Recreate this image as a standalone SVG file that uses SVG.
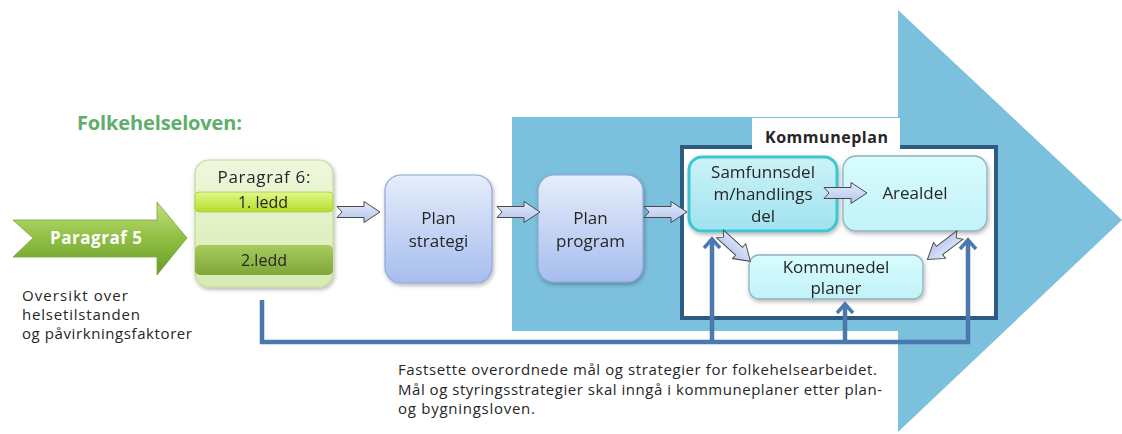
<svg xmlns="http://www.w3.org/2000/svg" width="1122" height="434" viewBox="0 0 1122 434">
<style>
  .t{font-family:"Open Sans","Noto Sans","DejaVu Sans",sans-serif;fill:#262626}
  .c{text-anchor:middle}
  .b{font-weight:bold}
  .box{fill:url(#gPlan);stroke:#8fa6d6;stroke-width:1.2}
  .cy{fill:url(#gCyan);stroke:#8fb2bd;stroke-width:1.3}
  .ln{fill:none;stroke:#4b79ad;stroke-width:4.5}
  .ba{fill:url(#gBA);stroke:#4a4a4a;stroke-width:1}
</style>
<defs>
  <linearGradient id="gPlan" x1="0" y1="0" x2="0" y2="1">
    <stop offset="0" stop-color="#e6edfb"/><stop offset="1" stop-color="#a6bdee"/>
  </linearGradient>
  <linearGradient id="gCyan" x1="0" y1="0" x2="0" y2="1">
    <stop offset="0" stop-color="#d8fcfe"/><stop offset="1" stop-color="#c2f2f8"/>
  </linearGradient>
  <linearGradient id="gSam" x1="0" y1="0" x2="0" y2="1">
    <stop offset="0" stop-color="#cdf3f8"/><stop offset="1" stop-color="#9fe2ee"/>
  </linearGradient>
  <linearGradient id="gBA" x1="0" y1="0" x2="0" y2="1">
    <stop offset="0" stop-color="#e4eafa"/><stop offset="1" stop-color="#b3c4ee"/>
  </linearGradient>
  <linearGradient id="gP5" x1="0" y1="0" x2="0" y2="1">
    <stop offset="0" stop-color="#c2e07e"/><stop offset="0.5" stop-color="#8fbf42"/><stop offset="1" stop-color="#6a9a2a"/>
  </linearGradient>
  <linearGradient id="gP6" x1="0" y1="0" x2="0" y2="1">
    <stop offset="0" stop-color="#eef7dc"/><stop offset="1" stop-color="#d6ebb2"/>
  </linearGradient>
  <linearGradient id="gL1" x1="0" y1="0" x2="0" y2="1">
    <stop offset="0" stop-color="#e2f78a"/><stop offset="1" stop-color="#b4dd2c"/>
  </linearGradient>
  <linearGradient id="gL2" x1="0" y1="0" x2="0" y2="1">
    <stop offset="0" stop-color="#a9cb5e"/><stop offset="1" stop-color="#7ea738"/>
  </linearGradient>
  <filter id="sh" x="-20%" y="-20%" width="140%" height="150%">
    <feDropShadow dx="1" dy="2" stdDeviation="2" flood-color="#000" flood-opacity="0.3"/>
  </filter>
  <path id="bar" d="M0,-5.5 L27,-5.5 L27,-10.5 L43,0 L27,10.5 L27,5.5 L0,5.5 L5,0 Z"/>
  <marker id="v" markerUnits="userSpaceOnUse" viewBox="-12 -12 24 24" refX="0" refY="0" markerWidth="24" markerHeight="24" orient="auto">
    <path d="M-9,-8 L0,0 L-9,8" fill="none" stroke="#4b79ad" stroke-width="3.5"/>
  </marker>
</defs>

<g id="bigArrow">
  <path d="M512,117 L898,117 L898,10 L1122,220 L898,432 L898,331 L512,331 Z" fill="#7bc0dc"/>
</g>

<g id="title">
  <text class="t b" x="77" y="130" font-size="20" style="fill:#5fae6b" textLength="165">Folkehelseloven:</text>
</g>

<g id="paragraf5">
  <path d="M13,220 L157,220 L157,202 L187,238 L157,275 L157,257 L13,257 L33,238 Z" fill="url(#gP5)" stroke="#7aa53a" stroke-width="0.8"/>
  <text class="t b c" x="96" y="244" font-size="17" style="fill:#fff" textLength="92">Paragraf 5</text>
</g>

<g id="paragraf6" filter="url(#sh)">
  <rect x="195" y="160" width="138" height="127" rx="14" fill="url(#gP6)" stroke="#c2da96" stroke-width="1.2"/>
  <rect x="195" y="192" width="138" height="20" rx="4" fill="url(#gL1)" stroke="#a6cb48" stroke-width="0.8"/>
  <rect x="195" y="245" width="138" height="30" rx="5" fill="url(#gL2)"/>
  <text class="t c" x="264" y="183" font-size="17" textLength="93">Paragraf 6:</text>
  <text class="t c" x="263" y="208" font-size="16">1. ledd</text>
  <text class="t c" x="264" y="266" font-size="16">2.ledd</text>
</g>

<g id="oversikt">
  <text class="t" x="22" y="301" font-size="15" textLength="106">Oversikt over</text>
  <text class="t" x="22" y="320" font-size="15" textLength="118">helsetilstanden</text>
  <text class="t" x="22" y="339" font-size="15" textLength="170">og påvirkningsfaktorer</text>
</g>

<g id="planStrategi" filter="url(#sh)">
  <rect class="box" x="385" y="175" width="107" height="108" rx="16"/>
  <text class="t c" x="438.5" y="224" font-size="17">Plan</text>
  <text class="t c" x="438.5" y="247" font-size="17">strategi</text>
</g>

<g id="planProgram" filter="url(#sh)">
  <rect class="box" x="538" y="175" width="105" height="107" rx="16"/>
  <text class="t c" x="590.5" y="224" font-size="17">Plan</text>
  <text class="t c" x="590.5" y="247" font-size="17">program</text>
</g>

<g id="kommuneplan">
  <rect x="682" y="147" width="314" height="171" fill="#fff" stroke="#2e5b82" stroke-width="4"/>
  <rect x="752" y="118" width="148" height="31" fill="#fff"/>
  <text class="t b c" x="826.5" y="143" font-size="16" textLength="123">Kommuneplan</text>
</g>

<g id="samfunnsdel" filter="url(#sh)">
  <rect x="689" y="157" width="148" height="74" rx="13" fill="url(#gSam)" stroke="#3ec6cf" stroke-width="3"/>
  <text class="t c" x="763" y="178" font-size="17">Samfunnsdel</text>
  <text class="t c" x="763" y="200" font-size="17">m/handlings</text>
  <text class="t c" x="763" y="222" font-size="17">del</text>
</g>

<g id="arealdel" filter="url(#sh)">
  <rect class="cy" x="843" y="156" width="144" height="75" rx="13"/>
  <text class="t c" x="915" y="199" font-size="17">Arealdel</text>
</g>

<g id="kommunedel" filter="url(#sh)">
  <rect class="cy" x="749" y="255" width="174" height="44" rx="10"/>
  <text class="t c" x="836" y="273" font-size="17">Kommunedel</text>
  <text class="t c" x="836" y="294" font-size="17">planer</text>
</g>

<g id="connectors">
  <use href="#bar" class="ba" transform="translate(337,212)"/>
  <use href="#bar" class="ba" transform="translate(497,212)"/>
  <use href="#bar" class="ba" transform="translate(644,212)"/>
  <use href="#bar" class="ba" transform="translate(824,193)"/>
  <use href="#bar" class="ba" transform="translate(720,234) rotate(42) scale(0.95)"/>
  <use href="#bar" class="ba" transform="translate(960,235) rotate(143) scale(0.95)"/>
  <path class="ln" d="M262,300 L262,342 L968,342 L968,240" marker-end="url(#v)"/>
  <path class="ln" d="M712,342 L712,239" marker-end="url(#v)"/>
  <path class="ln" d="M845,342 L845,304" marker-end="url(#v)"/>
</g>

<g id="note">
  <text class="t" x="398" y="375" font-size="15" textLength="479">Fastsette overordnede mål og strategier for folkehelsearbeidet.</text>
  <text class="t" x="398" y="395" font-size="15" textLength="484">Mål og styringsstrategier skal inngå i kommuneplaner etter plan-</text>
  <text class="t" x="398" y="414" font-size="15" textLength="137">og bygningsloven.</text>
</g>
</svg>
